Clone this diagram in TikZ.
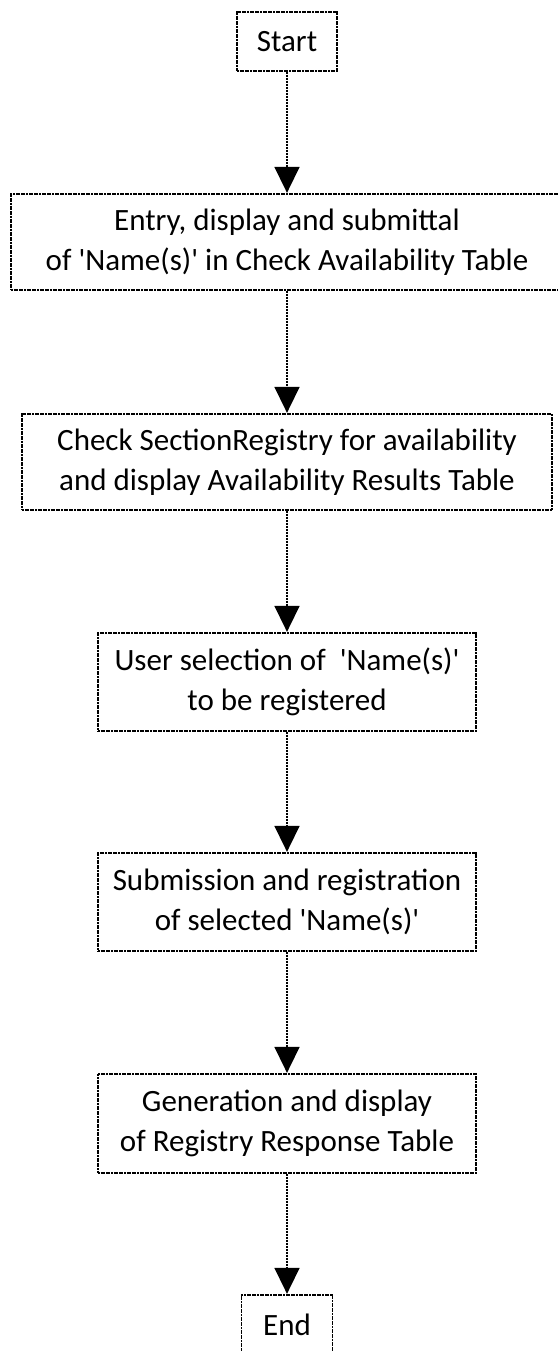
\documentclass[tikz,border=0pt]{standalone}
\usepackage{fontspec}
\setmainfont{Carlito}
\usetikzlibrary{arrows.meta}

\newcommand{\sq}{\textquotesingle}

\tikzset{
  stepbox/.style={draw=black, line width=1.3pt, dash pattern=on 2pt off 0.6pt,
    fill=white, align=center, inner sep=0pt,
    font=\fontsize{31}{40}\selectfont},
  termbox/.style={stepbox, minimum width=100pt, minimum height=59pt},
  conn/.style={draw=black, line width=1.6pt, dash pattern=on 2.4pt off 0.6pt,
    -{Triangle[width=25pt,length=26pt]}, shorten >=0.5pt}
}

\begin{document}
\begin{tikzpicture}[x=1pt, y=-1pt]
  \useasboundingbox (0,0) rectangle (557,1351);

  % terminals
  \node[termbox] (start) at (287,41.5) {\raisebox{-3pt}{Start}};
  \node[termbox, minimum width=91pt] (end) at (287,1324.5) {\raisebox{-3pt}{End}};

  % process steps
  \node[stepbox, minimum width=552pt, minimum height=96pt] (entry) at (287,242)
    {Entry, display and submittal\\of \sq Name(s)\sq\ in Check Availability Table};
  \node[stepbox, minimum width=530pt, minimum height=96pt] (check) at (287,462)
    {Check SectionRegistry for availability\\and display Availability Results Table};
  \node[stepbox, minimum width=378pt, minimum height=98pt] (select) at (287,682)
    {User selection of\ \ \sq Name(s)\sq\\to be registered};
  \node[stepbox, minimum width=378pt, minimum height=98pt] (submit) at (287,902)
    {Submission and registration\\of selected \sq Name(s)\sq};
  \node[stepbox, minimum width=378pt, minimum height=99pt] (resp) at (287,1123.5)
    {Generation and display\\of Registry Response Table};

  % flow
  \draw[conn] (start.south) -- (entry.north);
  \draw[conn] (entry.south) -- (check.north);
  \draw[conn] (check.south) -- (select.north);
  \draw[conn] (select.south) -- (submit.north);
  \draw[conn] (submit.south) -- (resp.north);
  \draw[conn] (resp.south) -- (end.north);
\end{tikzpicture}
\end{document}
